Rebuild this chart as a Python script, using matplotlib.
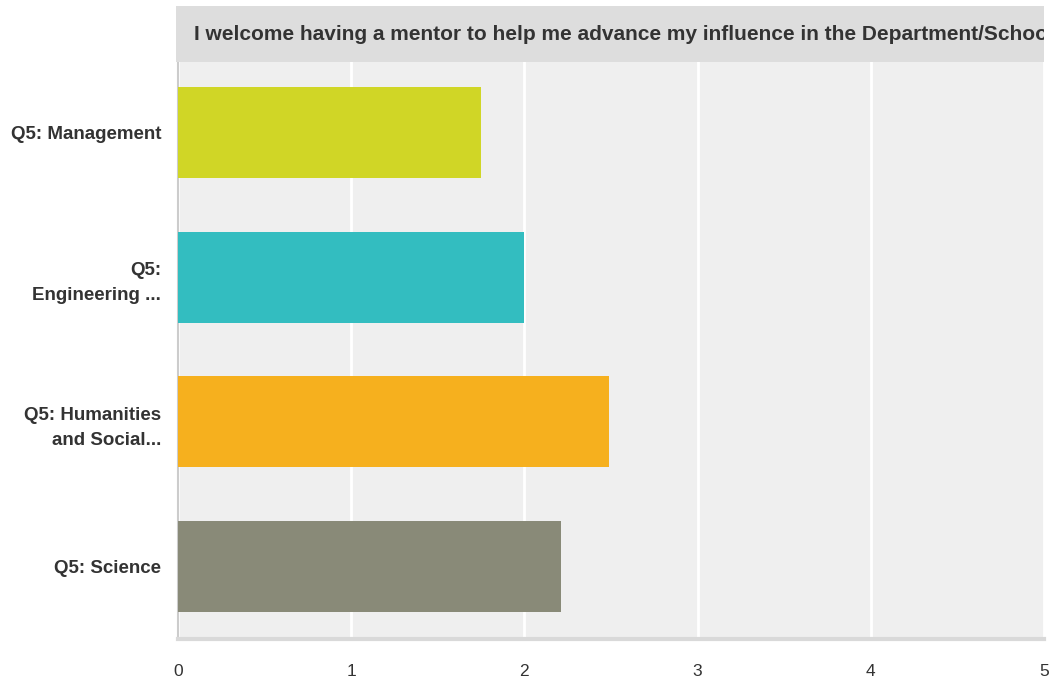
import numpy as np
from matplotlib import pyplot as plt

categories = ["Q5: Management", "Q5:\nEngineering ...", "Q5: Humanities\nand Social...", "Q5: Science"]
values = [1.75, 2.0, 2.49, 2.21]
colors = ["#d0d626", "#33bdc0", "#f6b01e", "#898a78"]
title = "I welcome having a mentor to help me advance my influence in the Department/School"
xticks = [0, 1, 2, 3, 4, 5]

plt.rcParams["font.family"] = ["Liberation Sans", "DejaVu Sans"]

W, H = 1053, 688
fig = plt.figure(figsize=(W/100, H/100), dpi=100)

ax = fig.add_axes([178/W, 1-639/H, (1044-178)/W, (639-60)/H])
ax.set_facecolor("#efefef")

y = np.arange(len(categories))
ax.barh(y, values, height=0.63, color=colors, zorder=3)

ax.set_xlim(0, 5)
ax.set_ylim(len(categories)-0.5, -0.5)
ax.set_xticks(xticks)
ax.set_xticklabels([str(t) for t in xticks], fontsize=12.5, color="#333333")
ax.set_yticks(y)
ax.set_yticklabels(categories, fontsize=13.5, fontweight="bold", color="#333333")
for lab in ax.get_yticklabels():
    lab.set_linespacing(1.6)
ax.tick_params(axis="both", length=0)
ax.tick_params(axis="x", pad=18)
ax.tick_params(axis="y", pad=12)
ax.grid(axis="x", color="white", lw=2, zorder=1)

for s in ["top", "right"]:
    ax.spines[s].set_visible(False)
ax.spines["left"].set_color("#cccccc")
ax.spines["left"].set_linewidth(1.5)
ax.spines["bottom"].set_color("#d9d9d9")
ax.spines["bottom"].set_linewidth(3)

# title band
tax = fig.add_axes([176/W, 1-62/H, (1044-176)/W, (62-6)/H])
tax.set_facecolor("#dddddd")
tax.set_xticks([])
tax.set_yticks([])
for s in tax.spines.values():
    s.set_visible(False)
tax.text(18/(1044-176), 0.5, title, transform=tax.transAxes, fontsize=15,
         fontweight="bold", color="#333333", va="center", ha="left", clip_on=True)

plt.savefig("out.png", dpi=100)
